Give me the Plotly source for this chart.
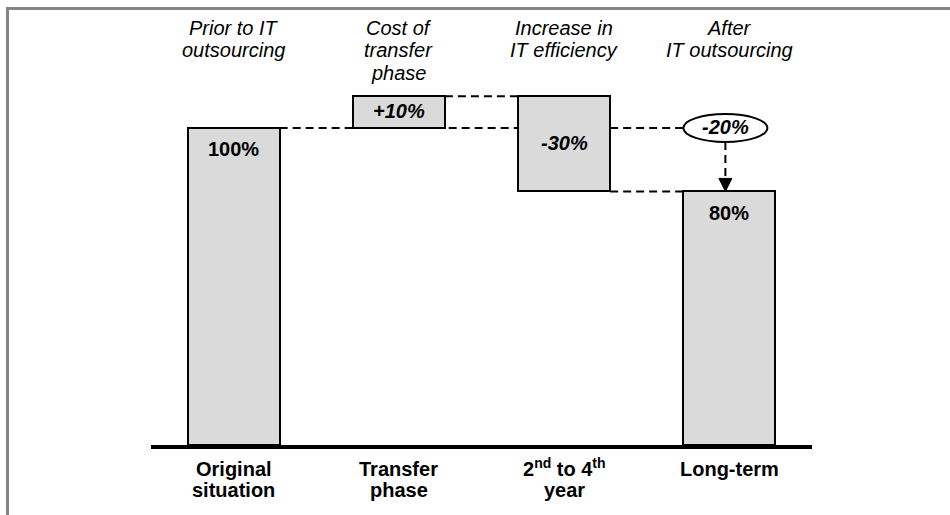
import plotly.graph_objects as go

# Waterfall steps of IT cost (index, original situation = 100%)
categories = ["Original<br>situation", "Transfer<br>phase",
              "2<sup>nd</sup> to 4<sup>th</sup><br>year", "Long-term"]
phase_titles = ["Prior to IT<br>outsourcing", "Cost of<br>transfer<br>phase",
                "Increase in<br>IT efficiency", "After<br>IT outsourcing"]
step_values = [100, 10, -30, 80]          # start, change, change, result
step_kind = ["total", "relative", "relative", "total"]
bar_labels = ["100%", "+10%", "-30%", "80%"]

# Build floating bars (base / height) from the step values
bases, heights, level = [], [], 0
for v, k in zip(step_values, step_kind):
    if k == "total":
        bases.append(0)
        heights.append(v)
        level = v
    else:
        lo, hi = sorted([level, level + v])
        bases.append(lo)
        heights.append(hi - lo)
        level += v
net_change = step_values[3] - step_values[0]   # -20

W, H = 950, 515
L, R, T, B = 151, 138, 10, 70
PW, PH = W - L - R, H - T - B
UNIT = 3.17                       # pixels per percentage point
YMAX = PH / UNIT
XU = PW / 4.0                     # pixels per category

FONT = "Arial, Liberation Sans, sans-serif"
FS = 20
BW = 0.557
x = list(range(len(categories)))


def px_x(p):
    return (p - L) / PW


def px_y(p):
    return (H - B - p) / PH


fig = go.Figure()
fig.add_trace(go.Bar(
    x=x, y=heights, base=bases, width=BW,
    marker=dict(color="#dadada", line=dict(color="black", width=2)),
    hoverinfo="skip", showlegend=False,
))

shapes = []
dash = dict(color="black", width=2, dash="8px,5px")


def hline(x0, x1, y):
    shapes.append(dict(type="line", xref="x", yref="y", x0=x0, x1=x1, y0=y, y1=y,
                       line=dash, layer="below"))


top0 = bases[0] + heights[0]
top1 = bases[1] + heights[1]
end_level = step_values[3]
hline(0 + BW / 2, 2 - BW / 2, top0)          # start level to efficiency bar
hline(1 + BW / 2, 2 - BW / 2, top1)          # transfer peak
hline(2 + BW / 2, 3 - BW / 2, end_level)     # efficiency bar to long-term

# Net change ellipse over the long-term bar
ex = 3 - 4 / XU
ew, eh = 84 / XU / 2, 28 / UNIT / 2
hline(2 + BW / 2, ex - ew, top0)
shapes.append(dict(type="circle", xref="x", yref="y",
                   x0=ex - ew, x1=ex + ew, y0=top0 - eh, y1=top0 + eh,
                   line=dict(color="black", width=2), fillcolor="white"))
# dashed arrow from ellipse down to the long-term bar
ah, aw = 13 / UNIT, 13 / XU / 2
shapes.append(dict(type="line", xref="x", yref="y", x0=ex, x1=ex,
                   y0=top0 - eh, y1=end_level + ah, line=dash))
shapes.append(dict(type="path", xref="x", yref="y",
                   path=f"M {ex - aw} {end_level + ah} L {ex + aw} {end_level + ah} L {ex} {end_level} Z",
                   fillcolor="black", line=dict(color="black", width=1)))

# Frame
frame = dict(color="#858585", width=3)
shapes.append(dict(type="line", xref="paper", yref="paper",
                   x0=px_x(7), x1=px_x(952), y0=px_y(8.5), y1=px_y(8.5), line=frame))
shapes.append(dict(type="line", xref="paper", yref="paper",
                   x0=px_x(7.5), x1=px_x(7.5), y0=px_y(7), y1=px_y(520), line=frame))

ann = []


def text_at(xv, baseline_px, txt, xref="x"):
    """Place one text line so that its baseline sits at the given pixel row."""
    ann.append(dict(x=xv, xref=xref, yref="paper", y=px_y(baseline_px + 5.2),
                    yanchor="bottom", xanchor="center", text=txt, showarrow=False,
                    font=dict(family=FONT, size=FS, color="black")))


def to_px(v):
    return H - B - v * UNIT


# Values inside bars
for i, (b, h, lab, k) in enumerate(zip(bases, heights, bar_labels, step_kind)):
    if k == "total":
        text_at(i, to_px(b + h) + 29, f"<b>{lab}</b>")
    else:
        text_at(i, to_px(b + h / 2) + 7, f"<b><i>{lab}</i></b>")
text_at(ex, to_px(top0) + 7, f"<b><i>{net_change}%</i></b>")

# Phase titles above the bars
for i, t in enumerate(phase_titles):
    for j, line in enumerate(t.split("<br>")):
        text_at(i, 35.5 + 22.5 * j, f"<i>{line}</i>")

# Category names below the baseline
for i, c in enumerate(categories):
    for j, line in enumerate(c.split("<br>")):
        text_at(i, 477 + 21 * j, f"<b>{line}</b>")

fig.update_layout(
    width=W, height=H,
    margin=dict(l=L, r=R, t=T, b=B),
    paper_bgcolor="white", plot_bgcolor="white",
    shapes=shapes, annotations=ann, bargap=0,
    xaxis=dict(range=[-0.5, 3.5], tickvals=x, showticklabels=False,
               showline=True, linecolor="black", linewidth=3.5, showgrid=False,
               zeroline=False, ticks="", fixedrange=True),
    yaxis=dict(range=[0, YMAX], visible=False, fixedrange=True),
)

fig.write_html("out.html")
